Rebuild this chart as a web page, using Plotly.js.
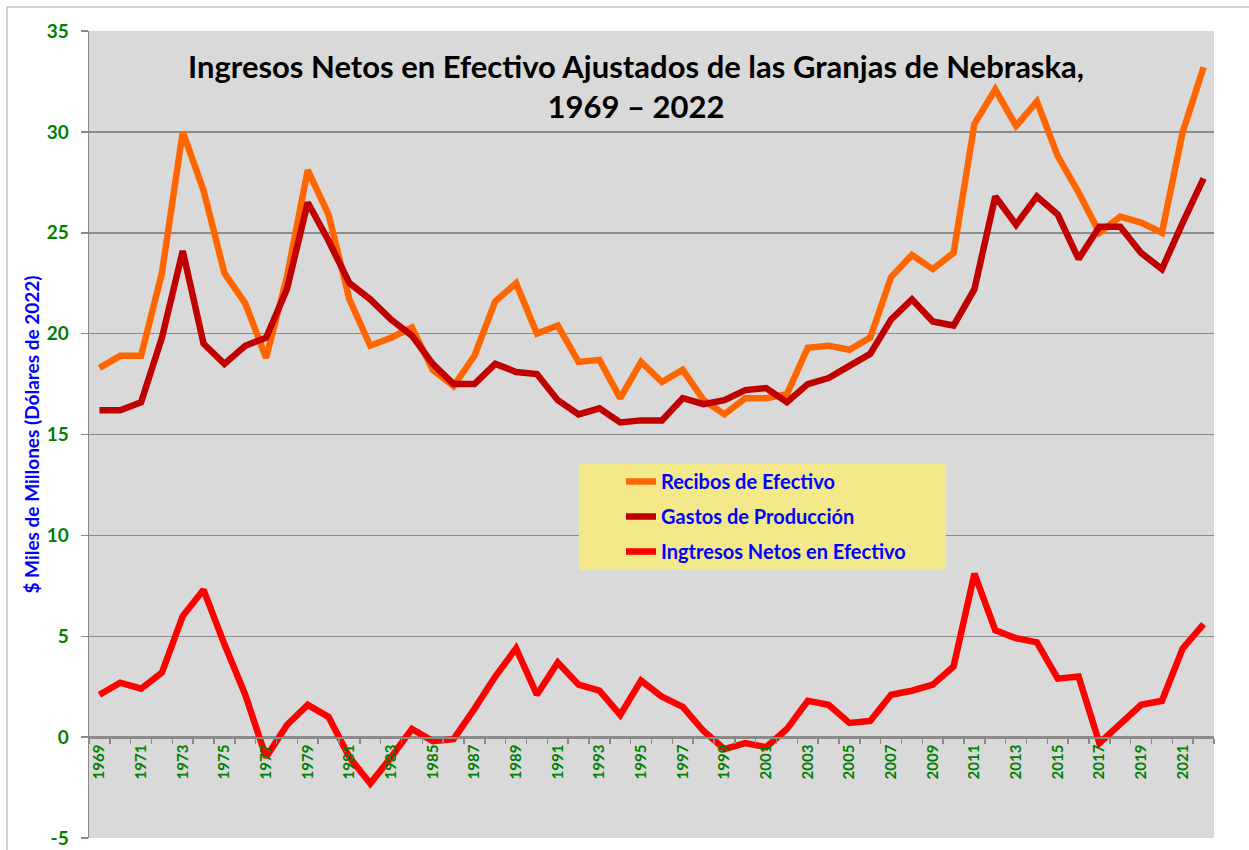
<!DOCTYPE html>
<html><head><meta charset="utf-8">
<script src="https://cdn.plot.ly/plotly-3.0.1.min.js"></script>
<style>html,body{margin:0;padding:0;background:#fff;} #chart{width:1249px;height:850px;}</style>
</head><body><div id="chart"></div>
<script>
const years = [1969,1970,1971,1972,1973,1974,1975,1976,1977,1978,1979,1980,1981,1982,1983,1984,1985,1986,1987,1988,1989,1990,1991,1992,1993,1994,1995,1996,1997,1998,1999,2000,2001,2002,2003,2004,2005,2006,2007,2008,2009,2010,2011,2012,2013,2014,2015,2016,2017,2018,2019,2020,2021,2022];
const recibos = [18.3,18.9,18.9,23.0,30.0,27.1,23.0,21.5,18.8,22.8,
                 28.1,25.9,21.7,19.4,19.8,20.3,18.2,17.4,18.9,21.6,
                 22.5,20.0,20.4,18.6,18.7,16.8,18.6,17.6,18.2,16.7,
                 16.0,16.8,16.8,17.0,19.3,19.4,19.2,19.8,22.8,23.9,
                 23.2,24.0,30.4,32.1,30.3,31.5,28.8,27.0,25.0,25.8,
                 25.5,25.0,30.0,33.2];
const gastos = [16.2,16.2,16.6,19.8,24.1,19.5,18.5,19.4,19.8,22.2,
                26.5,24.6,22.5,21.7,20.7,19.9,18.5,17.5,17.5,18.5,
                18.1,18.0,16.7,16.0,16.3,15.6,15.7,15.7,16.8,16.5,
                16.7,17.2,17.3,16.6,17.5,17.8,18.4,19.0,20.7,21.7,
                20.6,20.4,22.2,26.8,25.4,26.8,25.9,23.7,25.3,25.3,
                24.0,23.2,25.5,27.7];
const netos = [2.1,2.7,2.4,3.2,6.0,7.3,4.6,2.1,-1.0,0.6,
               1.6,1.0,-1.0,-2.3,-1.0,0.4,-0.2,-0.1,1.4,3.0,
               4.4,2.1,3.7,2.6,2.3,1.1,2.8,2.0,1.5,0.3,
               -0.6,-0.3,-0.5,0.4,1.8,1.6,0.7,0.8,2.1,2.3,
               2.6,3.5,8.1,5.3,4.9,4.7,2.9,3.0,-0.3,0.6,
               1.6,1.8,4.4,5.6];
const tickYears = [1969,1971,1973,1975,1977,1979,1981,1983,1985,1987,1989,1991,1993,1995,1997,1999,2001,2003,2005,2007,2009,2011,2013,2015,2017,2019,2021];
const tickLabels = ['1969','1971','1973','1975','1977','1979','1981','1983','1985','1987','1989','1991','1993','1995','1997','1999','2001','2003','2005','2007','2009','2011','2013','2015','2017','2019','2021'];
const yTickVals = [-5,0,5,10,15,20,25,30,35];
const yTickLabels = ['-5','0','5','10','15','20','25','30','35'];
const seriesNames = ['Recibos de Efectivo','Gastos de Producción','Ingtresos Netos en Efectivo'];

const traces = [
  {x: years, y: recibos, type:'scatter', mode:'lines', name: seriesNames[0], legendgroup:'a',
   line:{color:'#FF6600', width:6.5}},
  {x: years, y: gastos, type:'scatter', mode:'lines', name: seriesNames[1], legendgroup:'b',
   line:{color:'#C00000', width:6.5}},
  {x: years, y: netos, type:'scatter', mode:'lines', name: seriesNames[2], legendgroup:'c',
   line:{color:'#FF0000', width:6.5}}
];

const L = 89, R = 1214, T = 31, B = 838;
const px = v => (v - L) / (R - L);
const py = v => (B - v) / (B - T);

const layout = {
  width: 1249, height: 850,
  margin: {l: L, r: 1249 - R, t: T, b: 850 - B},
  paper_bgcolor: '#FFFFFF', plot_bgcolor: '#D9D9D9',
  font: {family: 'Lato, "Open Sans", sans-serif'},
  showlegend: true,
  title: {
    text: 'Ingresos Netos en Efectivo Ajustados de las Granjas de Nebraska,<br>1969 – 2022',
    font: {family: 'Lato, sans-serif', size: 31, color: '#000000', weight: 'bold'},
    xref: 'paper', x: px(636), xanchor: 'center',
    yref: 'container', y: 1 - 78 / 850, yanchor: 'middle'
  },
  xaxis: {
    type: 'linear', range: [1968.5, 2022.5], anchor: 'free', position: 0.125,
    tickmode: 'array', tickvals: tickYears, ticktext: tickLabels, tickangle: -90,
    ticks: '', tickfont: {color: '#008000', size: 15, weight: 'bold'},
    showline: true, linecolor: '#898989', linewidth: 1.5,
    showgrid: false, zeroline: false,
    minor: {tick0: 1968.5, dtick: 1, ticks: 'outside', ticklen: 5, tickcolor: '#898989', tickwidth: 1.5, showgrid: false}
  },
  yaxis: {
    range: [-5, 35], tickmode: 'array', tickvals: yTickVals, ticktext: yTickLabels,
    showgrid: true, gridcolor: '#8C8C8C', gridwidth: 1.5, zeroline: false,
    showline: true, linecolor: '#898989', linewidth: 1.5,
    ticks: 'outside', ticklen: 7, tickcolor: '#898989', tickwidth: 1.5,
    ticklabelstandoff: 8,
    tickfont: {color: '#008000', size: 19, weight: 'bold'},
    title: {text: '$ Miles de Millones (Dólares de 2022)', font: {color: '#0000FF', size: 19, weight: 'bold'}, standoff: 2}
  },
  legend: {
    x: px(621), xanchor: 'left', y: py(462), yanchor: 'top',
    bgcolor: 'rgba(0,0,0,0)', borderwidth: 0, tracegroupgap: 6,
    font: {color: '#0000FF', size: 20, weight: 'bold'}
  },
  shapes: [
    {type: 'rect', xref: 'paper', yref: 'paper', x0: px(579), x1: px(946), y0: py(570), y1: py(464),
     fillcolor: '#F3E88A', line: {width: 0}, layer: 'above'},
    {type: 'rect', xref: 'paper', yref: 'paper', x0: px(7), x1: px(1300), y0: py(900), y1: py(7),
     fillcolor: 'rgba(0,0,0,0)', line: {color: '#A6A6A6', width: 1}, layer: 'below'}
  ]
};

Plotly.newPlot('chart', traces, layout, {staticPlot: true, displayModeBar: false});
</script>
</body></html>
